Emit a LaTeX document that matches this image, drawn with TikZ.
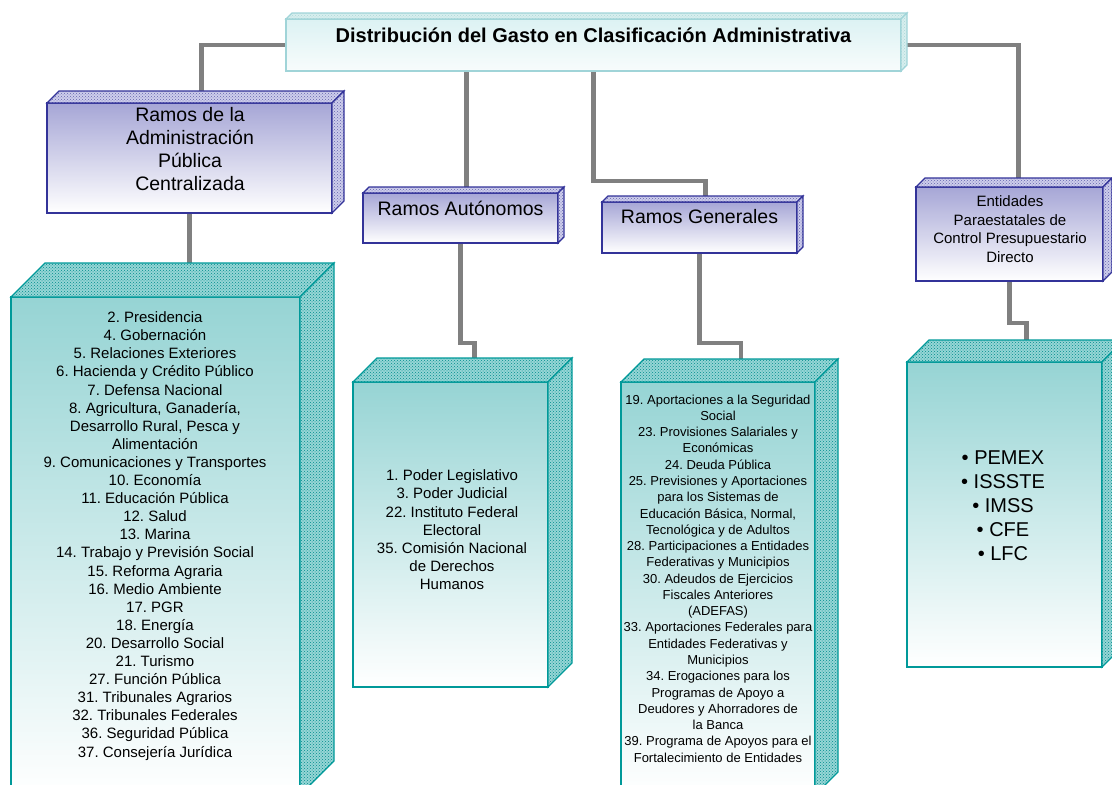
\documentclass[tikz,border=0pt]{standalone}
\usepackage{fontspec}
\setmainfont{Liberation Sans}
\usetikzlibrary{patterns,backgrounds}
\frenchspacing
\definecolor{pborder}{RGB}{51,51,153}
\definecolor{ptop}{RGB}{166,166,214}
\definecolor{pface}{RGB}{205,205,235}
\definecolor{pdot}{RGB}{100,100,175}
\definecolor{tborder}{RGB}{0,153,153}
\definecolor{ttop}{RGB}{150,212,212}
\definecolor{tface}{RGB}{150,214,214}
\definecolor{tdot}{RGB}{0,140,140}
\definecolor{hborder}{RGB}{160,212,216}
\definecolor{htop}{RGB}{220,242,243}
\definecolor{hbot}{RGB}{248,252,252}
\definecolor{hface}{RGB}{215,238,238}
\definecolor{hdot}{RGB}{170,215,215}
\definecolor{conncol}{RGB}{128,128,128}
\tikzset{
  purplefront/.style={draw=pborder, line width=1.2pt, top color=ptop, bottom color=white},
  purpleface/.style={draw=pborder, line width=1.2pt, preaction={fill=pface}, pattern=crosshatch dots, pattern color=pdot},
  tealfront/.style={draw=tborder, line width=1.2pt, top color=ttop, bottom color=white},
  tealface/.style={draw=tborder, line width=1.2pt, preaction={fill=tface}, pattern=crosshatch dots, pattern color=tdot},
  titlefront/.style={draw=hborder, line width=1.2pt, top color=htop, bottom color=hbot},
  titleface/.style={draw=hborder, line width=1.2pt, preaction={fill=hface}, pattern=crosshatch dots, pattern color=hdot},
  conn/.style={draw=conncol, line width=4.5pt},
  lbl/.style={inner sep=0pt, align=center, text=black}
}
\newcommand\boxthree[7]{%
  \node[#7front, minimum width={(#4-#2)*1pt}, minimum height={(#5-#3)*1pt}, inner sep=0pt, outer sep=0pt]
    (#1) at ({(#2+#4)/2},{(#3+#5)/2}) {};
  \path[#7face] (#2,#3) -- ({#2+#6},{#3-#6}) -- ({#4+#6},{#3-#6}) -- (#4,#3) -- cycle;
  \path[#7face] (#4,#3) -- ({#4+#6},{#3-#6}) -- ({#4+#6},{#5-#6}) -- (#4,#5) -- cycle;
  \coordinate (#1top) at ({(#2+#4)/2+#6},{#3-#6});
}
\begin{document}
\begin{tikzpicture}[x=1pt,y=-1pt]
\clip (0,0) rectangle (1112,785);
% boxes
\boxthree{title}{286}{19}{901}{71}{6}{title}
\boxthree{P1}{47}{103}{332}{213}{12}{purple}
\boxthree{A}{363}{193}{558}{243}{6}{purple}
\boxthree{G}{602}{202}{797}{253}{6}{purple}
\boxthree{E}{916}{187}{1103}{281}{9}{purple}
\boxthree{B1}{11}{297}{300}{795}{34}{teal}
\boxthree{B2}{353}{382}{548}{687}{24}{teal}
\boxthree{B3}{621}{382}{815}{795}{23}{teal}
\boxthree{B4}{907}{362}{1102}{667}{22}{teal}
% texts
\node[lbl, font=\fontsize{20}{24}\selectfont\bfseries] (titletext) at (593.5,35) {Distribución del Gasto en Clasificación Administrativa};
\node[lbl, font=\fontsize{19.5}{23.3}\selectfont] (P1text) at (190,149) {Ramos de la\\Administración\\Pública\\Centralizada};
\node[lbl, font=\fontsize{19.5}{23.3}\selectfont] (Atext) at (460.5,208) {Ramos Autónomos};
\node[lbl, font=\fontsize{19.5}{23.3}\selectfont] (Gtext) at (699.5,217) {Ramos Generales};
\node[lbl, font=\fontsize{15}{18.5}\selectfont] (Etext) at (1010,229) {Entidades\\Paraestatales de\\Control Presupuestario\\Directo};
\node[lbl, font=\fontsize{15}{18.1}\selectfont] (B1text) at (155,536) {2. Presidencia\\4. Gobernación\\5. Relaciones Exteriores\\6. Hacienda y Crédito Público\\7. Defensa Nacional\\8. Agricultura, Ganadería,\\Desarrollo Rural, Pesca y\\Alimentación\\9. Comunicaciones y Transportes\\10. Economía\\11. Educación Pública\\12. Salud\\13. Marina\\14. Trabajo y Previsión Social\\15. Reforma Agraria\\16. Medio Ambiente\\17. PGR\\18. Energía\\20. Desarrollo Social\\21. Turismo\\27. Función Pública\\31. Tribunales Agrarios\\32. Tribunales Federales\\36. Seguridad Pública\\37. Consejería Jurídica};
\node[lbl, font=\fontsize{15}{18.2}\selectfont] (B2text) at (452,530) {1. Poder Legislativo\\3. Poder Judicial\\22. Instituto Federal\\Electoral\\35. Comisión Nacional\\de Derechos\\Humanos};
\node[lbl, font=\fontsize{13}{16.27}\selectfont] (B3text) at (718,578.5) {19. Aportaciones a la Seguridad\\Social\\23. Provisiones Salariales y\\Económicas\\24. Deuda Pública\\25. Previsiones y Aportaciones\\para los Sistemas de\\Educación Básica, Normal,\\Tecnológica y de Adultos\\28. Participaciones a Entidades\\Federativas y Municipios\\30. Adeudos de Ejercicios\\Fiscales Anteriores\\(ADEFAS)\\33. Aportaciones Federales para\\Entidades Federativas y\\Municipios\\34. Erogaciones para los\\Programas de Apoyo a\\Deudores y Ahorradores de\\la Banca\\39. Programa de Apoyos para el\\Fortalecimiento de Entidades};
\node[lbl, font=\fontsize{20}{24}\selectfont] (B4text) at (1003,506) {• PEMEX\\• ISSSTE\\• IMSS\\• CFE\\• LFC};
% connectors
\begin{scope}[on background layer]
\draw[conn] (title.west) -| (P1top);
\draw[conn] (title.east) -| (Etop);
\draw[conn] (title.south -| Atop) -- (Atop);
\draw[conn] (title.south) -- ++(0,110) -| (Gtop);
\draw[conn] (P1.south) -- (P1.south |- B1top);
\draw[conn] (A.south) -- ++(0,100) -| (B2top);
\draw[conn] (G.south) -- ++(0,90) -| (B3top);
\draw[conn] (E.south) -- ++(0,42) -| (B4top);
\end{scope}
\end{tikzpicture}
\end{document}
